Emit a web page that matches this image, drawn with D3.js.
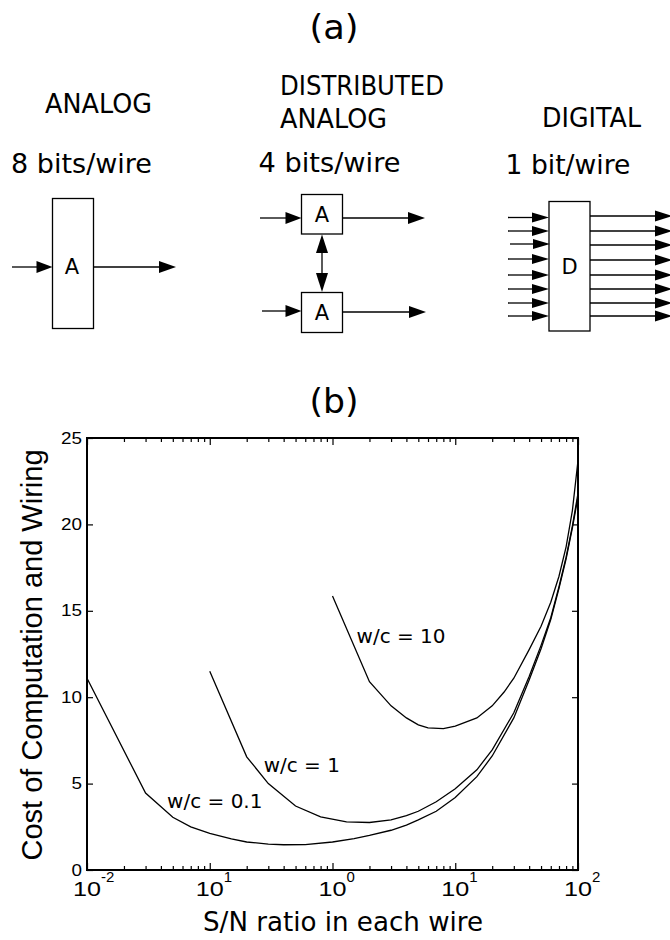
<!DOCTYPE html>
<html><head><meta charset="utf-8">
<script src="https://cdn.jsdelivr.net/npm/d3@7"></script>
<style>body{margin:0;background:#fff} svg{display:block}</style>
</head><body>
<script>
// ---- data ----
const seriesLabels = ["w/c = 0.1", "w/c = 1", "w/c = 10"];
const wc01X = [0.01,0.03,0.05,0.07,0.1,0.15,0.2,0.3,0.4,0.6,1,1.5,2,3,4,5,7,10,15,20,30,40,50,60,70,80,90,100];
const wc01Y = [11.1,4.45,3.05,2.5,2.12,1.8,1.62,1.5,1.46,1.47,1.62,1.82,2.0,2.3,2.6,2.9,3.4,4.2,5.4,6.6,8.8,11.0,12.8,14.5,16.3,18.0,19.8,21.6];
const wc1X = [0.1,0.2,0.3,0.5,0.8,1.3,2,3,4,5,7,10,15,20,30,40,50,60,70,80,90,100];
const wc1Y = [11.5,6.55,5.0,3.7,3.08,2.78,2.75,2.9,3.15,3.4,3.95,4.7,5.8,6.95,9.1,11.2,13.0,14.6,16.4,18.1,19.9,21.8];
const wc10X = [1,2,3,4,5,6,8,10,15,20,25,30,40,50,60,70,80,90,100];
const wc10Y = [15.85,10.9,9.5,8.8,8.4,8.22,8.18,8.32,8.8,9.5,10.3,11.1,12.75,14.1,15.5,17.0,18.7,20.8,23.7];
const xTickValues = [0.01, 0.1, 1, 10, 100];
const xTickExponents = ["-2", "1", "0", "1", "2"];
const yTickValues = [0, 5, 10, 15, 20, 25];
const schemeNames = ["ANALOG", "DISTRIBUTED", "ANALOG", "DIGITAL"];
const bitsLabels = ["8 bits/wire", "4 bits/wire", "1 bit/wire"];
const panelTitles = ["(a)", "(b)"];

// ---- drawing ----
const W = 670, H = 940;
const svg = d3.select("body").append("svg").attr("width", W).attr("height", H);
const SANS = "'DejaVu Sans', Verdana, sans-serif";
const ARIAL = "'Liberation Sans', Arial, sans-serif";

function txt(s, x, y, size, opts = {}) {
  const t = svg.append("text").attr("x", x).attr("y", y).text(s)
    .attr("font-family", opts.family || SANS).attr("font-size", size)
    .attr("text-anchor", opts.anchor || "start").attr("fill", "#000");
  if (opts.len) t.attr("textLength", opts.len).attr("lengthAdjust", "spacingAndGlyphs");
  if (opts.db) t.attr("dominant-baseline", opts.db);
  return t;
}
function harrow(x1, x2, yy, hl, hw) {
  svg.append("line").attr("x1", x1).attr("x2", x2 - hl + 1).attr("y1", yy).attr("y2", yy)
    .attr("stroke", "#000").attr("stroke-width", 1.3);
  svg.append("path").attr("d", d3.line()([[x2 - hl, yy - hw], [x2, yy], [x2 - hl, yy + hw]]) + "Z").attr("fill", "#000");
}
function box(x0, y0, x1, y1) {
  svg.append("rect").attr("x", x0).attr("y", y0).attr("width", x1 - x0).attr("height", y1 - y0)
    .attr("fill", "none").attr("stroke", "#000").attr("stroke-width", 1.3);
}

// panel (a)
txt(panelTitles[0], 334, 39, 34, {anchor: "middle", len: 49});
txt(schemeNames[0], 45, 113, 26, {len: 107});
txt(schemeNames[1], 280, 95, 26, {len: 164});
txt(schemeNames[2], 280, 128, 26, {len: 107});
txt(schemeNames[3], 542, 127, 26, {len: 99});
txt(bitsLabels[0], 11, 173, 27, {len: 141});
txt(bitsLabels[1], 258.5, 172, 27, {len: 142});
txt(bitsLabels[2], 505.5, 174, 27, {len: 125});

// analog
box(52.5, 198.5, 93.5, 328.5);
txt("A", 72, 267, 21, {anchor: "middle", db: "central"});
harrow(12, 52.5, 267, 16, 6);
harrow(93.5, 176, 267, 17, 6);

// distributed analog
box(301.5, 194.5, 342.5, 234);
box(301.5, 292.5, 342.5, 332.5);
txt("A", 322, 215, 21, {anchor: "middle", db: "central"});
txt("A", 322, 313, 21, {anchor: "middle", db: "central"});
harrow(260, 301.5, 218, 16, 6);
harrow(262, 301.5, 311, 16, 6);
harrow(342.5, 425, 218, 17, 6);
harrow(342.5, 426, 312, 17, 6);
svg.append("line").attr("x1", 322).attr("x2", 322).attr("y1", 250).attr("y2", 276)
  .attr("stroke", "#000").attr("stroke-width", 1.3);
svg.append("path").attr("d", "M316,253 L322,234.5 L328,253 Z").attr("fill", "#000");
svg.append("path").attr("d", "M316,273 L322,292 L328,273 Z").attr("fill", "#000");

// digital
box(549, 201.5, 590, 331);
txt("D", 569.5, 267, 21, {anchor: "middle", db: "central"});
const inYs = [217.5, 231, 244, 259, 275, 289, 303, 316];
const outYs = [216, 231, 245, 260, 275, 289, 303, 316];
inYs.forEach((yy, i) => harrow(i === 2 ? 510 : 508, i === 2 ? 550 : 549, yy, 17, 5));
outYs.forEach(yy => harrow(590, 672, yy, 17, 5.5));

// panel (b)
txt(panelTitles[1], 334, 413, 34, {anchor: "middle", len: 49});

const x = d3.scaleLog().domain([0.01, 100]).range([87, 578]);
const y = d3.scaleLinear().domain([0, 25]).range([870, 438]);

// minor / major ticks
const allX = [];
for (let e = -2; e < 2; e++) for (let m = 1; m < 10; m++) allX.push(m * Math.pow(10, e));
allX.push(100);
const isMajor = v => Math.abs(Math.log10(v) - Math.round(Math.log10(v))) < 1e-9;

const gBottom = svg.append("g").attr("transform", "translate(0,870)")
  .call(d3.axisBottom(x).tickValues(allX).tickFormat("").tickSizeOuter(0));
gBottom.select(".domain").remove();
gBottom.selectAll(".tick line").attr("y2", d => isMajor(d) ? -7 : -4).attr("stroke-width", 1.2);

const gTop = svg.append("g").attr("transform", "translate(0,438)")
  .call(d3.axisTop(x).tickValues(allX).tickFormat("").tickSizeOuter(0));
gTop.select(".domain").remove();
gTop.selectAll(".tick line").attr("y2", d => isMajor(d) ? 7 : 4).attr("stroke-width", 1.2);

const gLeft = svg.append("g").attr("transform", "translate(87,0)")
  .call(d3.axisLeft(y).tickValues(yTickValues).tickFormat("").tickSizeOuter(0));
gLeft.select(".domain").remove();
gLeft.selectAll(".tick line").attr("x2", 6).attr("stroke-width", 1.2);

const gRight = svg.append("g").attr("transform", "translate(578,0)")
  .call(d3.axisRight(y).tickValues(yTickValues).tickFormat("").tickSizeOuter(0));
gRight.select(".domain").remove();
gRight.selectAll(".tick line").attr("x2", -6).attr("stroke-width", 1.2);

// frame
svg.append("rect").attr("x", 87).attr("y", 438).attr("width", 578 - 87).attr("height", 870 - 438)
  .attr("fill", "none").attr("stroke", "#000").attr("stroke-width", 2);

// y tick labels
yTickValues.forEach(v => {
  const s = String(v);
  txt(s, 82, y(v), 16, {family: ARIAL, anchor: "end", db: "central", len: 10.5 * s.length});
});

// x tick labels 10^n
xTickValues.forEach((v, i) => {
  txt("10", x(v), 896, 20, {family: ARIAL, anchor: "middle", len: 28});
  txt(xTickExponents[i], x(v) + 14, 882, 15, {family: ARIAL});
});

// axis titles
svg.append("text").attr("transform", "translate(42,655) rotate(-90)")
  .attr("text-anchor", "middle").attr("font-family", ARIAL).attr("font-size", 29)
  .text("Cost of Computation and Wiring");
txt("S/N ratio in each wire", 343, 931, 27, {anchor: "middle", len: 280});

// curves
const line = d3.line().x(d => x(d[0])).y(d => y(d[1]));
[[wc01X, wc01Y], [wc1X, wc1Y], [wc10X, wc10Y]].forEach(([xs, ys]) => {
  svg.append("path").attr("d", line(xs.map((xv, i) => [xv, ys[i]])))
    .attr("fill", "none").attr("stroke", "#000").attr("stroke-width", 1.3);
});

// curve labels (anchored in data space)
txt(seriesLabels[0], x(0.0449), y(3.59), 20);
txt(seriesLabels[1], x(0.275), y(5.67), 20);
txt(seriesLabels[2], x(1.57), y(13.14), 20);
</script>
</body></html>
